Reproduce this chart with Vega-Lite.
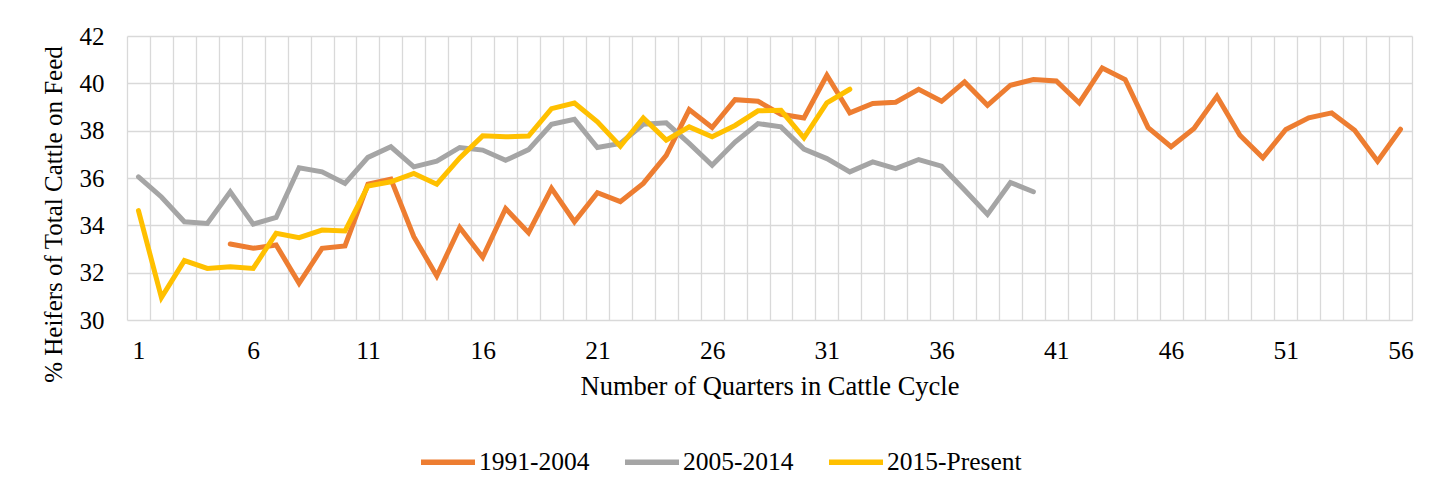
{
  "$schema": "https://vega.github.io/schema/vega-lite/v6.json",
  "autosize": {"type": "none"},
  "width": 1285,
  "height": 284,
  "padding": {"left": 127, "top": 36, "right": 27, "bottom": 176},
  "background": "white",
  "config": {
    "view": {"stroke": null},
    "font": "Liberation Serif"
  },
  "data": {
    "values": [
      {"q":5,"s":"1991-2004","v":33.21},{"q":6,"s":"1991-2004","v":33.03},{"q":7,"s":"1991-2004","v":33.17},{"q":8,"s":"1991-2004","v":31.55},{"q":9,"s":"1991-2004","v":33.03},{"q":10,"s":"1991-2004","v":33.13},{"q":11,"s":"1991-2004","v":35.74},{"q":12,"s":"1991-2004","v":35.95},{"q":13,"s":"1991-2004","v":33.52},{"q":14,"s":"1991-2004","v":31.86},{"q":15,"s":"1991-2004","v":33.91},{"q":16,"s":"1991-2004","v":32.65},{"q":17,"s":"1991-2004","v":34.71},{"q":18,"s":"1991-2004","v":33.69},{"q":19,"s":"1991-2004","v":35.56},{"q":20,"s":"1991-2004","v":34.15},{"q":21,"s":"1991-2004","v":35.38},{"q":22,"s":"1991-2004","v":35.0},{"q":23,"s":"1991-2004","v":35.77},{"q":24,"s":"1991-2004","v":36.96},{"q":25,"s":"1991-2004","v":38.89},{"q":26,"s":"1991-2004","v":38.13},{"q":27,"s":"1991-2004","v":39.31},{"q":28,"s":"1991-2004","v":39.24},{"q":29,"s":"1991-2004","v":38.69},{"q":30,"s":"1991-2004","v":38.54},{"q":31,"s":"1991-2004","v":40.34},{"q":32,"s":"1991-2004","v":38.75},{"q":33,"s":"1991-2004","v":39.15},{"q":34,"s":"1991-2004","v":39.2},{"q":35,"s":"1991-2004","v":39.75},{"q":36,"s":"1991-2004","v":39.24},{"q":37,"s":"1991-2004","v":40.06},{"q":38,"s":"1991-2004","v":39.07},{"q":39,"s":"1991-2004","v":39.92},{"q":40,"s":"1991-2004","v":40.16},{"q":41,"s":"1991-2004","v":40.1},{"q":42,"s":"1991-2004","v":39.17},{"q":43,"s":"1991-2004","v":40.65},{"q":44,"s":"1991-2004","v":40.16},{"q":45,"s":"1991-2004","v":38.13},{"q":46,"s":"1991-2004","v":37.32},{"q":47,"s":"1991-2004","v":38.09},{"q":48,"s":"1991-2004","v":39.45},{"q":49,"s":"1991-2004","v":37.81},{"q":50,"s":"1991-2004","v":36.85},{"q":51,"s":"1991-2004","v":38.05},{"q":52,"s":"1991-2004","v":38.54},{"q":53,"s":"1991-2004","v":38.75},{"q":54,"s":"1991-2004","v":38.02},{"q":55,"s":"1991-2004","v":36.71},{"q":56,"s":"1991-2004","v":38.06},
      {"q":1,"s":"2005-2014","v":36.05},{"q":2,"s":"2005-2014","v":35.2},{"q":3,"s":"2005-2014","v":34.15},{"q":4,"s":"2005-2014","v":34.08},{"q":5,"s":"2005-2014","v":35.42},{"q":6,"s":"2005-2014","v":34.05},{"q":7,"s":"2005-2014","v":34.33},{"q":8,"s":"2005-2014","v":36.43},{"q":9,"s":"2005-2014","v":36.26},{"q":10,"s":"2005-2014","v":35.77},{"q":11,"s":"2005-2014","v":36.87},{"q":12,"s":"2005-2014","v":37.32},{"q":13,"s":"2005-2014","v":36.47},{"q":14,"s":"2005-2014","v":36.71},{"q":15,"s":"2005-2014","v":37.29},{"q":16,"s":"2005-2014","v":37.18},{"q":17,"s":"2005-2014","v":36.75},{"q":18,"s":"2005-2014","v":37.2},{"q":19,"s":"2005-2014","v":38.27},{"q":20,"s":"2005-2014","v":38.48},{"q":21,"s":"2005-2014","v":37.29},{"q":22,"s":"2005-2014","v":37.46},{"q":23,"s":"2005-2014","v":38.27},{"q":24,"s":"2005-2014","v":38.33},{"q":25,"s":"2005-2014","v":37.46},{"q":26,"s":"2005-2014","v":36.54},{"q":27,"s":"2005-2014","v":37.52},{"q":28,"s":"2005-2014","v":38.3},{"q":29,"s":"2005-2014","v":38.16},{"q":30,"s":"2005-2014","v":37.22},{"q":31,"s":"2005-2014","v":36.82},{"q":32,"s":"2005-2014","v":36.26},{"q":33,"s":"2005-2014","v":36.68},{"q":34,"s":"2005-2014","v":36.4},{"q":35,"s":"2005-2014","v":36.78},{"q":36,"s":"2005-2014","v":36.5},{"q":37,"s":"2005-2014","v":35.49},{"q":38,"s":"2005-2014","v":34.46},{"q":39,"s":"2005-2014","v":35.81},{"q":40,"s":"2005-2014","v":35.42},
      {"q":1,"s":"2015-Present","v":34.62},{"q":2,"s":"2015-Present","v":30.95},{"q":3,"s":"2015-Present","v":32.51},{"q":4,"s":"2015-Present","v":32.18},{"q":5,"s":"2015-Present","v":32.25},{"q":6,"s":"2015-Present","v":32.18},{"q":7,"s":"2015-Present","v":33.66},{"q":8,"s":"2015-Present","v":33.48},{"q":9,"s":"2015-Present","v":33.8},{"q":10,"s":"2015-Present","v":33.76},{"q":11,"s":"2015-Present","v":35.66},{"q":12,"s":"2015-Present","v":35.84},{"q":13,"s":"2015-Present","v":36.19},{"q":14,"s":"2015-Present","v":35.74},{"q":15,"s":"2015-Present","v":36.85},{"q":16,"s":"2015-Present","v":37.78},{"q":17,"s":"2015-Present","v":37.74},{"q":18,"s":"2015-Present","v":37.77},{"q":19,"s":"2015-Present","v":38.93},{"q":20,"s":"2015-Present","v":39.17},{"q":21,"s":"2015-Present","v":38.37},{"q":22,"s":"2015-Present","v":37.34},{"q":23,"s":"2015-Present","v":38.54},{"q":24,"s":"2015-Present","v":37.6},{"q":25,"s":"2015-Present","v":38.16},{"q":26,"s":"2015-Present","v":37.74},{"q":27,"s":"2015-Present","v":38.22},{"q":28,"s":"2015-Present","v":38.84},{"q":29,"s":"2015-Present","v":38.86},{"q":30,"s":"2015-Present","v":37.7},{"q":31,"s":"2015-Present","v":39.17},{"q":32,"s":"2015-Present","v":39.75}
    ]
  },
  "mark": {"type": "line", "strokeWidth": 5, "strokeJoin": "miter", "strokeCap": "round"},
  "encoding": {
    "x": {
      "field": "q",
      "type": "ordinal",
      "sort": "ascending",
      "scale": {"type": "band", "paddingInner": 0, "paddingOuter": 0},
      "axis": {
        "title": "Number of Quarters in Cattle Cycle",
        "titleFont": "Liberation Serif",
        "titleFontSize": 26.5,
        "titleFontWeight": "normal",
        "titleColor": "black",
        "titlePadding": 10,
        "labelFont": "Liberation Serif",
        "labelFontSize": 25.5,
        "labelColor": "black",
        "labelAngle": 0,
        "labelPadding": 18,
        "labelExpr": "(datum.value - 1) % 5 == 0 ? datum.label : ''",
        "tickBand": "extent",
        "ticks": false,
        "domain": false,
        "grid": true,
        "gridColor": "#D9D9D9",
        "gridWidth": 1.3
      }
    },
    "y": {
      "field": "v",
      "type": "quantitative",
      "scale": {"domain": [30, 42], "nice": false, "zero": false},
      "axis": {
        "title": "% Heifers of Total Cattle on Feed",
        "titleFont": "Liberation Serif",
        "titleFontSize": 25,
        "titleFontWeight": "normal",
        "titleColor": "black",
        "titleX": -61,
        "titleY": 178,
        "labelFont": "Liberation Serif",
        "labelFontSize": 25,
        "labelColor": "black",
        "labelPadding": 23,
        "values": [30, 32, 34, 36, 38, 40, 42],
        "ticks": false,
        "domain": false,
        "grid": true,
        "gridColor": "#D9D9D9",
        "gridWidth": 1.3
      }
    },
    "color": {
      "field": "s",
      "type": "nominal",
      "scale": {"domain": ["1991-2004", "2005-2014", "2015-Present"], "range": ["#ED7D31", "#A5A5A5", "#FFC000"]},
      "legend": {
        "title": null,
        "orient": "none",
        "direction": "horizontal",
        "legendX": 291,
        "legendY": 396,
        "gridAlign": "each",
        "symbolType": "stroke",
        "symbolSize": 2916,
        "symbolStrokeWidth": 5.5,
        "labelFont": "Liberation Serif",
        "labelFontSize": 25.5,
        "labelColor": "black",
        "labelOffset": 1,
        "columnPadding": 24
      }
    }
  }
}
